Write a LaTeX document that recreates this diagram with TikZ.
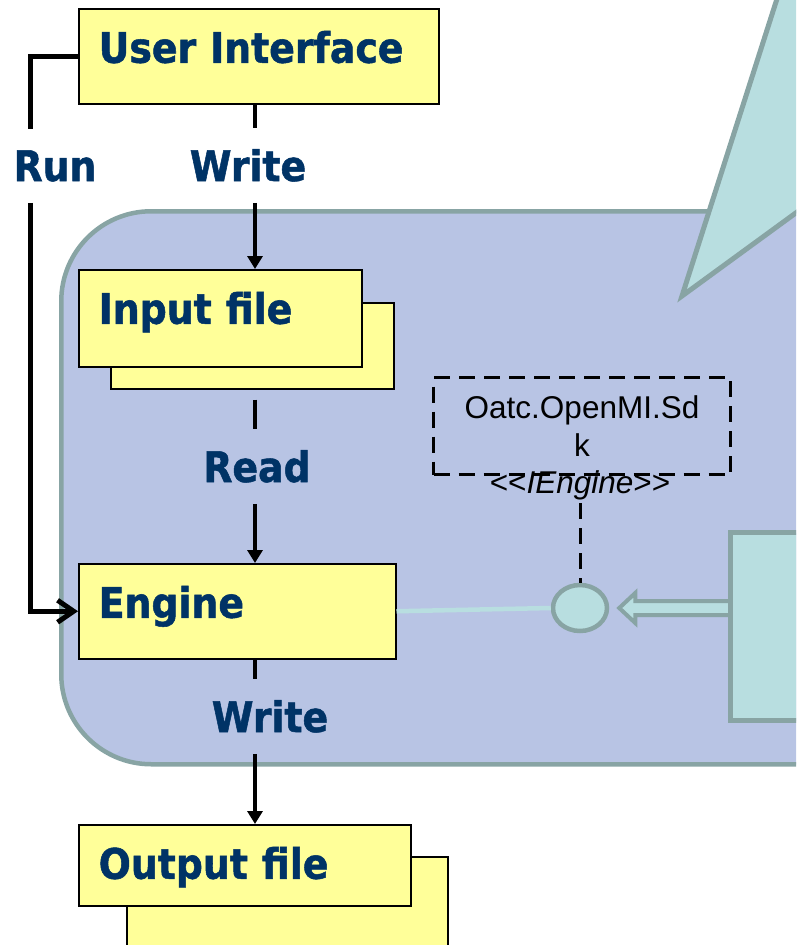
\documentclass[tikz,border=0pt]{standalone}
\usepackage{fontspec}
\setmainfont{Liberation Sans}
\newfontfamily\labelfont{DejaVu Sans}[FakeStretch=0.9, BoldFeatures={FakeBold=1.2}]
\usetikzlibrary{arrows.meta,shapes.geometric}
\definecolor{boxyellow}{HTML}{FFFF99}
\definecolor{labelnavy}{HTML}{003366}
\definecolor{sdkblue}{HTML}{B8C4E4}
\definecolor{edgegray}{HTML}{88A4A4}
\definecolor{portteal}{HTML}{B8DEE0}
\tikzset{
  filebox/.style = {draw = black, fill = boxyellow, line width = 1.5pt, anchor = north west,
    inner xsep = 20pt, inner ysep = 0pt, align = left, text = labelnavy,
    font = \labelfont\bfseries\fontsize{42}{48}\selectfont},
  flowlabel/.style = {anchor = base, inner xsep = 0pt, inner ysep = 21pt, text = labelnavy,
    font = \labelfont\bfseries\fontsize{42}{48}\selectfont},
  flow/.style = {line width = 4.5pt},
  flowarrow/.style = {flow, -{Triangle[length = 13pt, width = 15pt]}},
  sdkframe/.style = {draw = edgegray, fill = sdkblue, line width = 4.5pt, rounded corners = 90pt},
  pointer/.style = {draw = edgegray, fill = portteal, line width = 5pt},
  ifacebox/.style = {draw = black, line width = 3pt, dash pattern = on 16pt off 9pt,
    align = center, inner sep = 0pt, font = \fontsize{31.5}{38}\selectfont},
  ifaceline/.style = {line width = 3pt, dash pattern = on 16pt off 9pt},
  lolly/.style = {ellipse, draw = edgegray, fill = portteal, line width = 4.5pt,
    minimum width = 54pt, minimum height = 46pt, inner sep = 0pt},
  wire/.style = {draw = portteal, line width = 4.5pt},
  realize/.style = {draw = edgegray, fill = portteal, line width = 4pt}
}

\begin{document}
\begin{tikzpicture}[x = 1pt, y = -1pt]
  \useasboundingbox (0, 0) rectangle (796, 945);
  \clip (0, 0) rectangle (796, 945);

  % component frame and callout
  \node (frame) at (59, 209) [sdkframe, anchor = north west, minimum width = 1000pt, minimum height = 553pt] {};
  \draw [pointer] (783, -20) -- (682, 296) -- (830, 188) -- (830, -20) -- cycle;

  % files and engine
  \node (ui) at (78, 8) [filebox, minimum width = 360pt, minimum height = 95pt,
    text width = 320pt, text height = 54pt, text depth = 41pt] {User Interface};
  \node (inback) at (110, 302) [filebox, minimum width = 283pt, minimum height = 86pt] {};
  \node (input) at (78, 269) [filebox, minimum width = 283pt, minimum height = 97pt,
    text width = 243pt, text height = 54pt, text depth = 43pt] {Input file};
  \node (engine) at (78, 563) [filebox, minimum width = 317pt, minimum height = 95pt,
    text width = 277pt, text height = 54pt, text depth = 41pt] {Engine};
  \node (outback) at (126, 856) [filebox, minimum width = 321pt, minimum height = 120pt] {};
  \node (output) at (78, 824) [filebox, minimum width = 332pt, minimum height = 81pt,
    text width = 292pt, text height = 54pt, text depth = 27pt] {Output file};

  \node (run) at (55, 181) [flowlabel] {Run};
  \node (write1) at (248, 181) [flowlabel] {Write};
  \node (read) at (257, 482) [flowlabel] {Read};
  \node (write2) at (270, 732) [flowlabel] {Write};
  \coordinate (spine) at (255, 0);

  % interface
  \node (sdk) at (432, 376) [ifacebox, anchor = north west, minimum width = 297pt,
    minimum height = 97pt, text width = 290pt] {Oatc.OpenMI.Sd\\k};
  \node (stereo) at (580, 493) [anchor = base, font = \fontsize{31.5}{37.5}\selectfont]
    {<\kern0pt<\textit{IEngine}>\kern0pt>};
  \node (port) at (580, 608) [lolly] {};

  \draw [flow, line width = 5pt] (ui.west) -| ([xshift = -25pt]run.north);
  \draw [flow, line width = 5pt, -{Straight Barb[length = 16pt, width = 22pt]}] ([xshift = -25pt]run.south) |- (engine.west);
  \draw [flow] (ui.south -| spine) -- (write1.north -| spine);
  \draw [flowarrow] (write1.south -| spine) -- (input.north -| spine);
  \draw [flow] ([yshift = -10pt]inback.south -| spine) -- (read.north -| spine);
  \draw [flowarrow] (read.south -| spine) -- (engine.north -| spine);
  \draw [flow] (engine.south -| spine) -- (write2.north -| spine);
  \draw [flowarrow] (write2.south -| spine) -- (output.north -| spine);
  \draw [wire] (engine.east) -- (port.west);
  \draw [ifaceline] (stereo.south) -- (port.north);
  \coordinate (tip) at ([xshift = 10pt]port.east);
  \draw [realize] (tip) -- ++(16, -15) -- ++(0, 8) -- ++(95, 0) -- ++(0, 14) -- ++(-95, 0) -- ++(0, 8) -- cycle;
  \node (comp) at (728, 530) [anchor = north west, draw = edgegray, fill = portteal, line width = 5pt,
    minimum width = 150pt, minimum height = 188pt] {};
\end{tikzpicture}
\end{document}
